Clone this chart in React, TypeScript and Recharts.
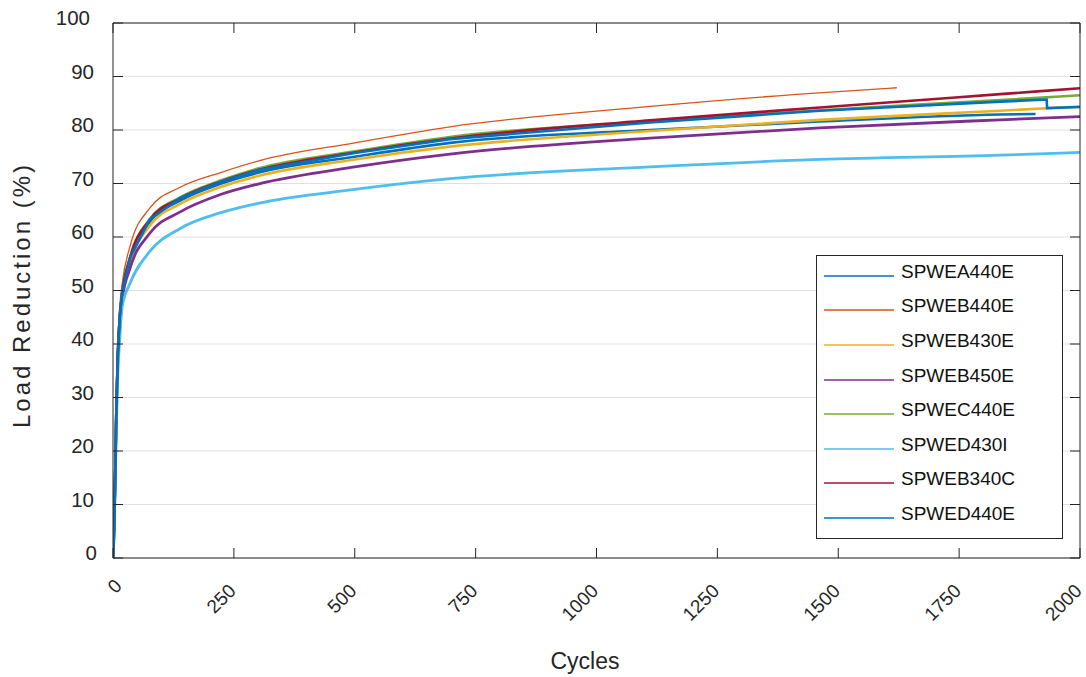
import React from 'react';
import { LineChart, Line, XAxis, YAxis, CartesianGrid, ReferenceLine } from 'recharts';

// cycle positions (shared by most series)
const cycles = [0, 1, 2, 4, 7, 10, 14, 19, 35, 76, 139, 221, 300, 500, 697, 1111, 1462, 1835, 2000];
const cyclesOrange = [0, 1, 2, 4, 7, 10, 14, 19, 35, 76, 139, 221, 300, 500, 697, 1111, 1421, 1621];
const cyclesBlueShort = [0, 1, 2, 4, 7, 10, 14, 19, 35, 76, 139, 221, 300, 500, 697, 1111, 1462, 1835, 1908];
const cyclesBlueStep = [0, 1, 2, 4, 7, 10, 14, 19, 35, 76, 139, 221, 300, 500, 697, 1111, 1462, 1835, 1931, 1932, 2000];

const spwea440e = [0, 2, 5, 13, 28, 38, 45, 49.3, 55.7, 62.8, 66.8, 69.9, 72.0, 75.0, 77.6, 80.0, 81.6, 82.9, 83.0];
const spweb440e = [0, 2.5, 6, 15, 31, 40.5, 47, 51.3, 58.2, 65.4, 69.3, 72.0, 74.2, 77.6, 80.6, 84.4, 86.7, 87.9];
const spweb430e = [0, 2, 5, 12.8, 27.5, 37.5, 44.5, 49.0, 55.2, 62.1, 66.2, 69.3, 71.4, 74.5, 76.9, 79.8, 81.9, 83.6, 84.4];
const spweb450e = [0, 2, 5, 12.5, 27, 37, 43.5, 48.3, 54.1, 60.7, 64.7, 67.9, 69.9, 73.1, 75.5, 78.5, 80.4, 81.9, 82.5];
const spwec440e = [0, 2, 5, 13, 28, 38, 45, 49.6, 56.1, 63.3, 67.4, 70.5, 72.8, 76.0, 78.7, 81.6, 83.7, 85.6, 86.5];
const spwed430i = [0, 1.5, 4, 11, 25, 34.5, 41, 47.0, 51.3, 57.3, 61.6, 64.5, 66.3, 68.9, 70.9, 73.1, 74.5, 75.3, 75.8];
const spweb340c = [0, 2, 5, 13, 28, 38, 45, 49.5, 56.0, 63.2, 67.2, 70.3, 72.5, 75.8, 78.4, 81.8, 84.2, 86.7, 87.8];
const spwed440e = [0, 2, 5, 13, 28, 38, 45.2, 49.7, 56.1, 63.3, 67.3, 70.3, 72.5, 75.7, 78.3, 81.4, 83.6, 85.3, 85.7, 84.1, 84.3];

const xTicks = [0, 250, 500, 750, 1000, 1250, 1500, 1750, 2000];
const yTicks = [0, 10, 20, 30, 40, 50, 60, 70, 80, 90, 100];

const series = [
  { name: 'SPWEA440E', color: '#0072BD', x: cyclesBlueShort, y: spwea440e, width: 2.6, curve: 'monotone' },
  { name: 'SPWEB440E', color: '#D95319', x: cyclesOrange, y: spweb440e, width: 1.3, curve: 'monotone' },
  { name: 'SPWEB430E', color: '#EDB120', x: cycles, y: spweb430e, width: 2.6, curve: 'monotone' },
  { name: 'SPWEB450E', color: '#7E2F8E', x: cycles, y: spweb450e, width: 2.8, curve: 'monotone' },
  { name: 'SPWEC440E', color: '#77AC30', x: cycles, y: spwec440e, width: 2.6, curve: 'monotone' },
  { name: 'SPWED430I', color: '#4DBEEE', x: cycles, y: spwed430i, width: 2.8, curve: 'monotone' },
  { name: 'SPWEB340C', color: '#A2142F', x: cycles, y: spweb340c, width: 2.6, curve: 'monotone' },
  { name: 'SPWED440E', color: '#0072BD', x: cyclesBlueStep, y: spwed440e, width: 2.6, curve: 'linear' },
];

const FONT = '"Liberation Sans", Arial, Helvetica, sans-serif';
const INK = '#262626';
const PLOT_TOP = 23;
const PLOT_RIGHT = 1080;

const XTick = (props: any) => {
  const { x, y, payload } = props;
  const label = String(payload.value);
  const single = label.length === 1;
  const tx = x + 3 + (single ? 7 : 0);
  const ty = y + 34 + (single ? -5 : 0);
  return (
    <g>
      <line x1={x} x2={x} y1={y} y2={y - 10} stroke={INK} />
      <line x1={x} x2={x} y1={PLOT_TOP} y2={PLOT_TOP + 10} stroke={INK} />
      <text x={tx} y={ty} textAnchor="end" transform={`rotate(-45 ${tx} ${ty})`}
        fontFamily={FONT} fontSize={19} fill={INK}>{label}</text>
    </g>
  );
};

const YTick = (props: any) => {
  const { x, y, payload } = props;
  const label = String(payload.value);
  const right = label.length === 1 ? 97 : label.length === 2 ? 94 : 90;
  return (
    <g>
      <line x1={x} x2={x + 10} y1={y} y2={y} stroke={INK} />
      <line x1={PLOT_RIGHT - 10} x2={PLOT_RIGHT} y1={y} y2={y} stroke={INK} />
      <text x={right} y={y + 2.2} textAnchor="end" fontFamily={FONT} fontSize={20.5} fill={INK}>
        {label}
      </text>
    </g>
  );
};

export default function App() {
  return (
    <div style={{ position: 'absolute', left: 0, top: 0, width: 1086, height: 677, background: '#fff', fontFamily: FONT }}>
      <LineChart width={1086} height={677} margin={{ top: 23, right: 6, bottom: 59, left: 0 }}>
        <CartesianGrid vertical={false} stroke="#e0e0e0" />
        <XAxis type="number" dataKey="x" domain={[0, 2000]} ticks={xTicks} interval={0}
          height={60} tickSize={0} tickMargin={0} tick={<XTick />}
          axisLine={{ stroke: INK }} allowDataOverflow />
        <YAxis type="number" domain={[0, 100]} ticks={yTicks} interval={0}
          width={113} tickSize={0} tickMargin={0} tick={<YTick />}
          axisLine={{ stroke: INK }} allowDataOverflow />
        {series.map((s) => (
          <Line key={s.name} type={s.curve as any} data={s.x.map((c, i) => ({ x: c, y: s.y[i] }))}
            dataKey="y" name={s.name} stroke={s.color} strokeWidth={s.width}
            dot={false} activeDot={false} isAnimationActive={false} />
        ))}
        <ReferenceLine y={100} stroke={INK} />
        <ReferenceLine x={2000} stroke={INK} />
      </LineChart>

      <div style={{ position: 'absolute', left: 0, top: 0, width: 1086, height: 677, pointerEvents: 'none' }}>
        <div style={{ position: 'absolute', left: 585, top: 661, transform: 'translate(-50%, -50%)',
          fontSize: 23, color: INK, whiteSpace: 'nowrap' }}>Cycles</div>
        <div style={{ position: 'absolute', left: 22, top: 295, transform: 'translate(-50%, -50%) rotate(-90deg)',
          fontSize: 24, letterSpacing: 3, color: INK, whiteSpace: 'nowrap' }}>Load Reduction (%)</div>

        <div style={{ position: 'absolute', left: 816, top: 255, width: 245, height: 282,
          border: `1px solid ${INK}`, background: '#fff' }}>
          {series.map((s, i) => (
            <div key={s.name} style={{ position: 'absolute', left: 0, top: -1.3 + i * 34.6, height: 34, width: 245 }}>
              <svg width={80} height={34} style={{ position: 'absolute', left: 0, top: 0 }}>
                <line x1={7} x2={77} y1={21} y2={21} stroke={s.color} strokeWidth={1.3} />
              </svg>
              <span style={{ position: 'absolute', left: 84, top: 0, lineHeight: '34px', fontSize: 19,
                color: '#111', whiteSpace: 'nowrap' }}>{s.name}</span>
            </div>
          ))}
        </div>
      </div>
    </div>
  );
}
